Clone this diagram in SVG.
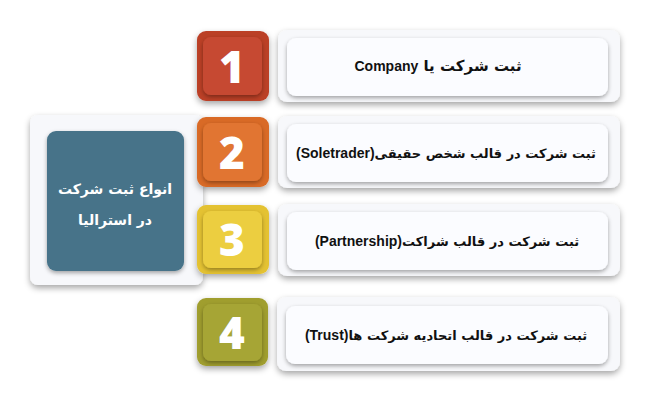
<svg xmlns="http://www.w3.org/2000/svg" width="650" height="400" viewBox="0 0 650 400">
<defs>
<filter id="sh" x="-20%" y="-20%" width="140%" height="150%">
<feDropShadow dx="0" dy="3" stdDeviation="3" flood-color="#000" flood-opacity="0.35"/>
</filter>
<filter id="sh2" x="-20%" y="-20%" width="140%" height="150%">
<feDropShadow dx="0" dy="2" stdDeviation="2" flood-color="#000" flood-opacity="0.35"/>
</filter>
</defs>
<style>
.outer{fill:#f7f8fb;filter:url(#sh)}
.inner{fill:#fbfcff;filter:url(#sh2)}
.num{font-family:"Open Sans","DejaVu Sans",sans-serif;font-weight:800;font-size:44px;fill:#fff;text-anchor:middle}
.lbl{font-family:"Liberation Sans","DejaVu Sans",sans-serif;font-weight:bold;font-size:14px;fill:#111;text-anchor:middle}
.fa{font-family:"DejaVu Sans",sans-serif;font-size:13px}
.fa1{font-family:"DejaVu Sans",sans-serif;font-size:15px}
.title{font-family:"DejaVu Sans",sans-serif;font-weight:bold;font-size:14px;fill:#fff;text-anchor:middle}
</style>
<rect width="650" height="400" fill="#ffffff"/>
<g id="title-node">
<rect class="outer" x="30" y="115" width="173" height="170" rx="8"/>
<rect x="47" y="131" width="137" height="140" rx="9" fill="#467389" filter="url(#sh2)"/>
<text class="title" x="115" y="194" direction="rtl">انواع ثبت شرکت</text>
<text class="title" x="115" y="225" direction="rtl">در استرالیا</text>
</g>
<g id="node1">
<rect x="197" y="31" width="72" height="70" rx="9" fill="#bb3f28" filter="url(#sh)"/>
<rect x="203" y="37" width="59" height="58" rx="8" fill="#c64a31" filter="url(#sh2)"/>
<text class="num" x="232" y="83">1</text>
<rect class="outer" x="278" y="30" width="342" height="72" rx="9"/>
<rect class="inner" x="287" y="38" width="321" height="58" rx="9"/>
<text class="lbl" x="438" y="71" direction="rtl"><tspan class="fa1">ثبت شرکت یا </tspan>Company</text>
</g>
<g id="node2">
<rect x="197" y="117" width="72" height="70" rx="9" fill="#d96a25" filter="url(#sh)"/>
<rect x="203" y="123" width="59" height="58" rx="8" fill="#e17530" filter="url(#sh2)"/>
<text class="num" x="232" y="169">2</text>
<rect class="outer" x="278" y="116" width="342" height="72" rx="9"/>
<rect class="inner" x="287" y="124" width="321" height="58" rx="9"/>
<text class="lbl" x="446" y="158" direction="rtl"><tspan class="fa">ثبت شرکت در قالب شخص حقیقی</tspan>(Soletrader)</text>
</g>
<g id="node3">
<rect x="197" y="205" width="72" height="69" rx="9" fill="#e4c232" filter="url(#sh)"/>
<rect x="203" y="211" width="59" height="57" rx="8" fill="#ecce40" filter="url(#sh2)"/>
<text class="num" x="232" y="256">3</text>
<rect class="outer" x="278" y="204" width="342" height="72" rx="9"/>
<rect class="inner" x="287" y="212" width="321" height="58" rx="9"/>
<text class="lbl" x="447" y="246" direction="rtl"><tspan class="fa">ثبت شرکت در قالب شراکت</tspan>(Partnership)</text>
</g>
<g id="node4">
<rect x="197" y="298" width="71" height="68" rx="9" fill="#a09e2e" filter="url(#sh)"/>
<rect x="203" y="304" width="59" height="57" rx="8" fill="#a6a536" filter="url(#sh2)"/>
<text class="num" x="232" y="349">4</text>
<rect class="outer" x="277" y="297" width="343" height="74" rx="9"/>
<rect class="inner" x="286" y="306" width="322" height="58" rx="9"/>
<text class="lbl" x="446" y="340" direction="rtl"><tspan class="fa">ثبت شرکت در قالب اتحادیه شرکت ها</tspan>(Trust)</text>
</g>
<g id="connectors"></g>
</svg>
